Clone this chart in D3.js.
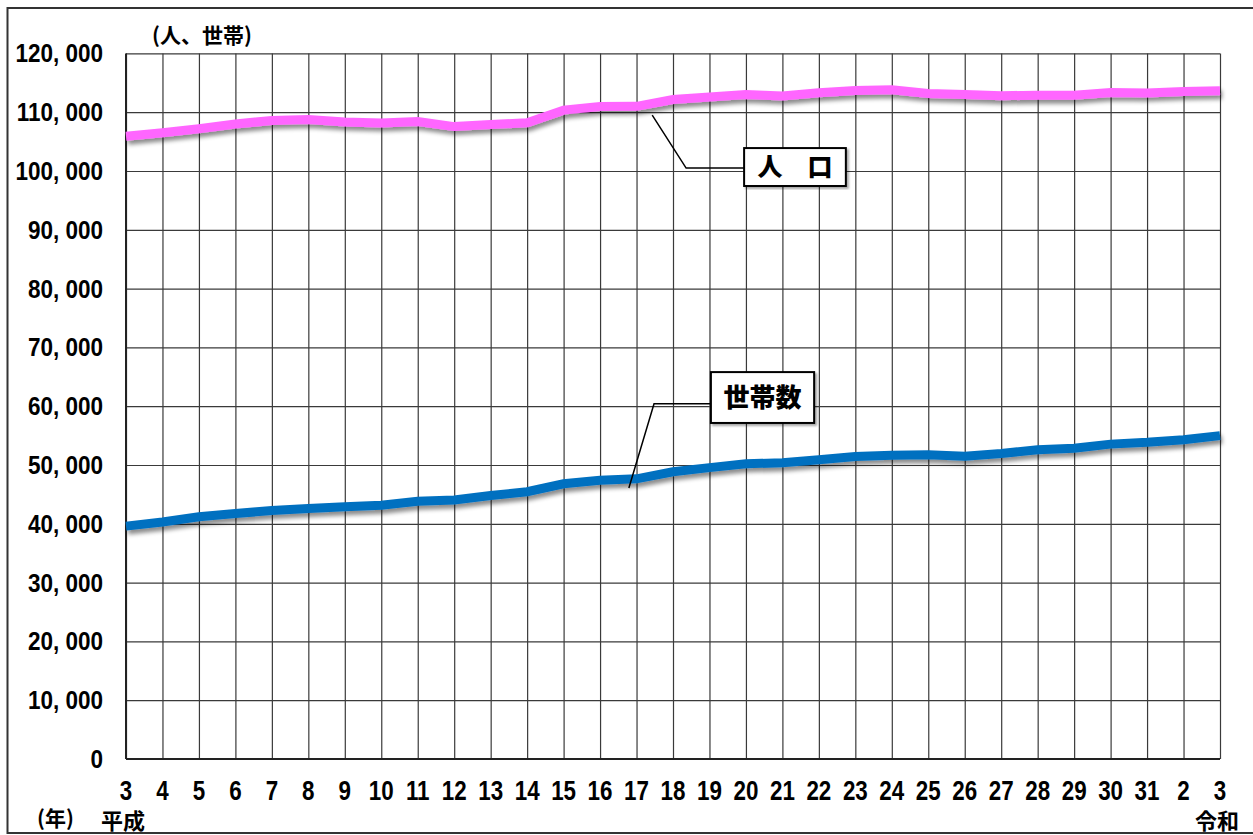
<!DOCTYPE html>
<html>
<head>
<meta charset="utf-8">
<script src="https://cdn.jsdelivr.net/npm/d3@7"></script>
<style>
  body { margin: 0; background: #fff; }
  .num { font-family: 'Liberation Sans', Arial, sans-serif; font-weight: bold; }
  .jp { font-family: 'Noto Sans CJK JP', sans-serif; font-weight: bold; }
</style>
</head>
<body>
<svg id="chart"></svg>
<script>
// 年 (平成3年〜令和3年)
var years = ["3", "4", "5", "6", "7", "8", "9", "10", "11", "12", "13", "14", "15", "16", "17",
  "18", "19", "20", "21", "22", "23", "24", "25", "26", "27", "28", "29", "30", "31", "2", "3"];

// 人口
var population = [105900, 106500, 107200, 108000, 108600, 108750, 108350, 108150, 108400, 107550,
  107900, 108200, 110350, 110950, 111000, 112150, 112600, 113000, 112750, 113300,
  113700, 113800, 113200, 113000, 112800, 112900, 112900, 113350, 113250, 113500, 113650];

// 世帯数
var households = [39600, 40300, 41200, 41750, 42250, 42600, 42900, 43150, 43850, 44050,
  44800, 45450, 46800, 47400, 47650, 48850, 49550, 50200, 50400, 50900,
  51450, 51650, 51750, 51500, 51950, 52600, 52850, 53550, 53850, 54300, 55000];

var yTicks = [0, 10000, 20000, 30000, 40000, 50000, 60000, 70000, 80000, 90000, 100000, 110000, 120000];

// 吹き出し (x: 年のインデックス, y: 値)
var callouts = [
  { text: "人\u3000口", anchor: [14.43, 109500], elbow: [15.36, 100500], box: [16.95, 103900, 19.74, 97450], size: 25 },
  { text: "世帯数", anchor: [13.79, 46100], elbow: [14.48, 60400], box: [16.04, 65800, 18.87, 57150], size: 26 }
];

var W = 1253, H = 835;
var margin = { top: 53.4, left: 126, right: 33, bottom: 76 },
  width = W - margin.left - margin.right,
  height = H - margin.top - margin.bottom;

var svg = d3.select("#chart").attr("width", W).attr("height", H);

var defs = svg.append("defs");
var f = defs.append("filter").attr("id", "shadow")
  .attr("x", "-5%").attr("y", "-50%").attr("width", "110%").attr("height", "200%");
f.append("feDropShadow").attr("dx", 2).attr("dy", 4).attr("stdDeviation", 2.2)
  .attr("flood-color", "#000").attr("flood-opacity", 0.45);
var f2 = defs.append("filter").attr("id", "boxshadow");
f2.append("feDropShadow").attr("dx", 2).attr("dy", 2).attr("stdDeviation", 1)
  .attr("flood-color", "#000").attr("flood-opacity", 0.35);

// outer frame
svg.append("rect").attr("x", 7.5).attr("y", 8).attr("width", W).attr("height", 825)
  .attr("fill", "none").attr("stroke", "#333").attr("stroke-width", 2);

var g = svg.append("g").attr("transform", "translate(" + margin.left + "," + margin.top + ")");

var x = d3.scaleLinear().domain([0, years.length - 1]).range([0, width]);
var y = d3.scaleLinear().domain([0, 120000]).range([height, 0]);

// vertical grid
g.append("g")
  .attr("transform", "translate(0," + height + ")")
  .call(d3.axisBottom(x).tickValues(d3.range(years.length)).tickSize(-height).tickFormat(""))
  .call(function (s) {
    s.select(".domain").remove();
    s.selectAll("line").attr("stroke", "#3a3a3a").attr("stroke-width", 1.2);
  });

// horizontal grid
g.append("g")
  .call(d3.axisLeft(y).tickValues(yTicks).tickSize(-width).tickFormat(""))
  .call(function (s) {
    s.select(".domain").remove();
    s.selectAll("line").attr("stroke", "#3a3a3a").attr("stroke-width", 1.2);
  });

// axis lines
g.append("line").attr("x1", 0).attr("x2", width).attr("y1", y(0)).attr("y2", y(0))
  .attr("stroke", "#222").attr("stroke-width", 2);
g.append("line").attr("x1", 0).attr("x2", 0).attr("y1", 0).attr("y2", height)
  .attr("stroke", "#222").attr("stroke-width", 2);

// y labels (narrow bold digits)
g.selectAll(".ylab").data(yTicks).enter().append("text")
  .attr("class", "num")
  .attr("transform", function (d) { return "translate(-23," + y(d) + ") scale(0.9,1)"; })
  .attr("dy", "0.36em")
  .attr("text-anchor", "end")
  .style("font-size", "25px")
  .text(function (d) { return d3.format(",")(d).replace(",", ", "); });

// x labels
g.selectAll(".xlab").data(years).enter().append("text")
  .attr("class", "num")
  .attr("transform", function (d, i) { return "translate(" + x(i) + "," + (height + 40.8) + ") scale(0.8,1)"; })
  .attr("text-anchor", "middle")
  .style("font-size", "28px")
  .text(function (d) { return d; });

// lines
var line = d3.line()
  .x(function (d, i) { return x(i); })
  .y(function (d) { return y(d); });

g.append("path").datum(households)
  .attr("d", line).attr("fill", "none")
  .attr("stroke", "#0070C0").attr("stroke-width", 9)
  .attr("filter", "url(#shadow)");

g.append("path").datum(population)
  .attr("d", line).attr("fill", "none")
  .attr("stroke", "#FF66FF").attr("stroke-width", 9)
  .attr("filter", "url(#shadow)");

// callouts
callouts.forEach(function (c) {
  var bx = x(c.box[0]), by = y(c.box[1]), bw = x(c.box[2]) - bx, bh = y(c.box[3]) - by;
  g.append("path")
    .attr("d", d3.line()([[x(c.anchor[0]), y(c.anchor[1])], [x(c.elbow[0]), y(c.elbow[1])], [bx, y(c.elbow[1])]]))
    .attr("fill", "none").attr("stroke", "#000").attr("stroke-width", 1.5);
  g.append("rect").attr("x", bx).attr("y", by).attr("width", bw).attr("height", bh)
    .attr("fill", "#fff").attr("stroke", "#000").attr("stroke-width", 2)
    .attr("filter", "url(#boxshadow)");
  g.append("text").attr("class", "jp")
    .attr("x", bx + bw / 2).attr("y", by + bh / 2).attr("dy", "0.36em")
    .attr("text-anchor", "middle")
    .style("font-size", c.size + "px").style("font-weight", 900)
    .text(c.text);
});

// unit labels
svg.append("text").attr("class", "jp").attr("x", 37).attr("y", 826)
  .style("font-size", "21px").text("(年)");
svg.append("text").attr("class", "jp").attr("x", 152).attr("y", 43)
  .style("font-size", "21px").text("(人、世帯)");
svg.append("text").attr("class", "jp").attr("x", 101).attr("y", 828.5)
  .style("font-size", "22px").text("平成");
svg.append("text").attr("class", "jp").attr("x", 1195).attr("y", 828.5)
  .style("font-size", "22px").text("令和");
</script>
</body>
</html>
